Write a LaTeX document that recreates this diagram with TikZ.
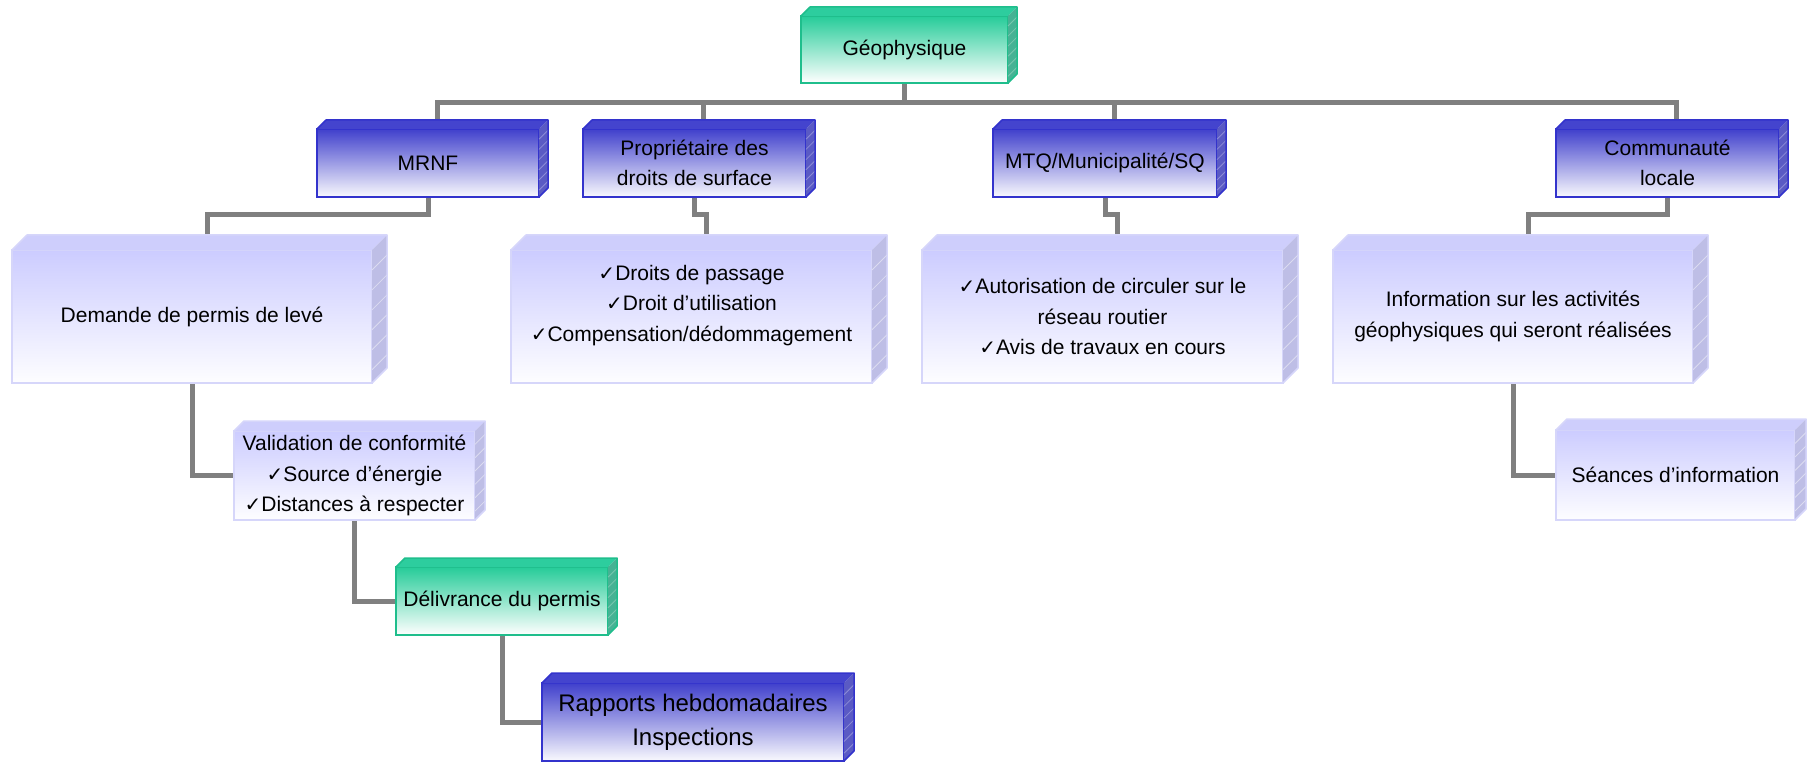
\documentclass[tikz,border=0pt]{standalone}
\usepackage{fontspec}
\setmainfont{Liberation Sans}
\newfontfamily\symbfont{DejaVu Sans}
\usetikzlibrary{calc,backgrounds}

\definecolor{grnFace}{RGB}{38,204,153}
\definecolor{grnEdge}{RGB}{31,190,140}
\definecolor{grnLid}{RGB}{45,205,158}
\definecolor{grnSide}{RGB}{70,178,148}
\definecolor{grnGrid}{RGB}{120,200,175}
\definecolor{bluFace}{RGB}{64,64,204}
\definecolor{bluEdge}{RGB}{51,51,204}
\definecolor{bluLid}{RGB}{68,68,206}
\definecolor{bluSide}{RGB}{90,90,196}
\definecolor{bluGrid}{RGB}{140,140,215}
\definecolor{lavFace}{RGB}{204,204,255}
\definecolor{lavEdge}{RGB}{214,214,250}
\definecolor{lavLid}{RGB}{206,206,252}
\definecolor{lavSide}{RGB}{190,190,230}
\definecolor{lavGrid}{RGB}{220,220,240}
\definecolor{linkgray}{RGB}{128,128,128}

\newcommand{\chk}{{\symbfont\fontsize{20}{20}\selectfont ✓}}

\begin{document}
\begin{tikzpicture}[x=1pt, y=-1pt,
  card/.style={draw, line width=1.5pt, outer sep=0pt, inner sep=0pt, align=center,
    font=\fontsize{21}{30.5}\selectfont},
  grnbox/.style={card, draw=grnEdge, top color=grnFace, bottom color=white},
  blubox/.style={card, draw=bluEdge, top color=bluFace, bottom color=white!97!bluFace},
  lavbox/.style={card, draw=lavEdge, top color=lavFace, bottom color=white!97!lavFace},
  link/.style={draw=linkgray, line width=5pt}]
\useasboundingbox (0,0) rectangle (1807,762);

% top
\node[grnbox, minimum width=207, minimum height=67] (geo) at (904.5,49.5) {Géophysique};

% level 1
\node[blubox, minimum width=222, minimum height=68] (mrnf) at (428,163) {MRNF};
\node[blubox, minimum width=223, minimum height=68] (prop) at (694.5,163) {Propriétaire des\\droits de surface};
\node[blubox, minimum width=224, minimum height=68] (mtq) at (1105,163) {MTQ/Municipalité/SQ};
\node[blubox, minimum width=223, minimum height=68] (comm) at (1667.5,163) {Communauté\\locale};

% level 2
\node[lavbox, minimum width=360, minimum height=133] (dem) at (192,316.5) {Demande de permis de levé};
\node[lavbox, minimum width=361, minimum height=133] (droits) at (691.5,316.5)
  {\chk Droits de passage\\\chk Droit d’utilisation\\\chk Compensation/dédommagement\\[-4pt]\mbox{}};
\node[lavbox, minimum width=361, minimum height=133] (autor) at (1102.5,316.5)
  {\chk Autorisation de circuler sur le\\réseau routier\\\chk Avis de travaux en cours};
\node[lavbox, minimum width=360, minimum height=133] (info) at (1513,316.5)
  {Information sur les activités\\géophysiques qui seront réalisées};

% side steps
\node[lavbox, minimum width=241, minimum height=89] (valid) at (354.5,475.5)
  {Validation de conformité\\\chk Source d’énergie\\\chk Distances à respecter};
\node[grnbox, minimum width=212, minimum height=68] (deliv) at (502,601) {Délivrance du permis};
\node[blubox, minimum width=302, minimum height=78, font=\fontsize{24}{34}\selectfont] (rapp) at (693,722)
  {Rapports hebdomadaires\\Inspections};
\node[lavbox, minimum width=239, minimum height=90] (seance) at (1675.5,475) {Séances d’information};

% depth faces
\foreach \n/\d/\p in {geo/9/grn, mrnf/9/blu, prop/9/blu, mtq/9/blu, comm/9/blu,
    dem/15/lav, droits/15/lav, autor/15/lav, info/15/lav,
    valid/10/lav, deliv/9/grn, rapp/10/blu, seance/11/lav}{
  \fill[fill=\p Lid] (\n.north west) -- ++(\d,-\d) -- ([shift={(\d,-\d)}]\n.north east) -- (\n.north east) -- cycle;
  \fill[fill=\p Side] (\n.north east) -- ([shift={(\d,-\d)}]\n.north east) -- ([shift={(\d,-\d)}]\n.south east) -- (\n.south east) -- cycle;
  \foreach \t in {0.15,0.3,0.45,0.6,0.75,0.9}
    \draw[\p Grid, line width=0.8pt] ($(\n.north east)!\t!(\n.south east)$) -- ++(\d,-\d);
  \draw[\p Edge, line width=1.5pt, line join=round] (\n.north west) -- ++(\d,-\d)
    -- ([shift={(\d,-\d)}]\n.north east) -- ([shift={(\d,-\d)}]\n.south east) -- (\n.south east);
  \coordinate (\n-in) at ([shift={(\d,-\d)}]\n.north);
}

% connectors
\begin{scope}[on background layer]
\coordinate (bar) at (0,102.5);
\foreach \c in {mrnf,prop,mtq,comm}
  \draw[link] (geo.south) -- (geo.south |- bar) -| (\c-in);
\draw[link] (mrnf.south) -- ++(0,18) -| (dem-in);
\draw[link] (prop.south) -- ++(0,18) -| (droits-in);
\draw[link] (mtq.south) -- ++(0,18) -| (autor-in);
\draw[link] (comm.south) -- ++(0,18) -| (info-in);
\draw[link] (dem.south) |- (valid.west);
\draw[link] (valid.south) |- (deliv.west);
\draw[link] (deliv.south) |- (rapp.west);
\draw[link] (info.south) |- (seance.west);
\end{scope}
\end{tikzpicture}
\end{document}
